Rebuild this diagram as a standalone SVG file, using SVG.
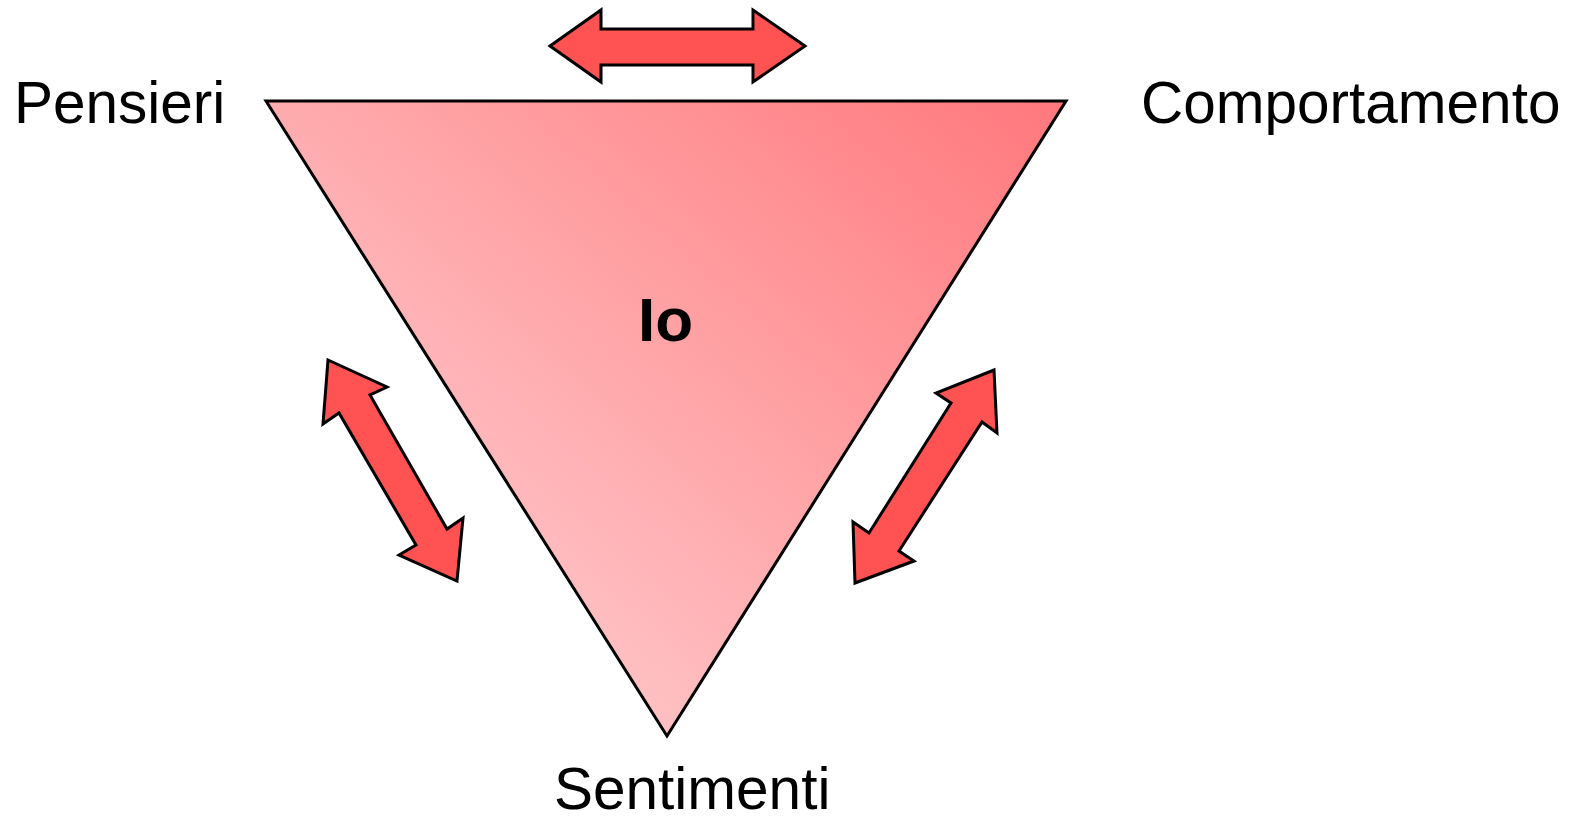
<svg xmlns="http://www.w3.org/2000/svg" width="1575" height="822" viewBox="0 0 1575 822">
<style>
.lbl{font-family:"Liberation Sans",Arial,sans-serif;font-size:58.5px;fill:#000}
.io{font-family:"Liberation Sans",Arial,sans-serif;font-size:62px;font-weight:bold;fill:#000}
.arrow{fill:#ff5252;stroke:#000;stroke-width:3;stroke-linejoin:miter}
</style>
<defs>
<linearGradient id="tg" gradientUnits="userSpaceOnUse" x1="1060" y1="101" x2="560" y2="660">
<stop offset="0" stop-color="#ff787c"/>
<stop offset="1" stop-color="#ffc2c4"/>
</linearGradient>
</defs>
<rect width="1575" height="822" fill="#fff"/>
<g id="triangle">
<polygon points="266,101 1066,101 667,736" fill="url(#tg)" stroke="#000" stroke-width="3"/>
<text class="io" x="638" y="341">Io</text>
</g>
<g id="pensieri"><text class="lbl" x="14" y="123">Pensieri</text></g>
<g id="comportamento"><text class="lbl" x="1141" y="123">Comportamento</text></g>
<g id="sentimenti"><text class="lbl" x="554" y="809">Sentimenti</text></g>
<g id="connectors">
<polygon class="arrow" points="550,46 601,10 601,29 753,29 753,10 805,46 753,82 753,65 601,65 601,82"/>
<polygon class="arrow" points="328,360 387,387 370,395 447,529 463,518 457,581 399,555 416,545 339,413 323,424"/>
<polygon class="arrow" points="994,370 997,433 982,422 899,551 914,561 855,583 853,522 869,533 951,403 936,393"/>
</g>
</svg>
